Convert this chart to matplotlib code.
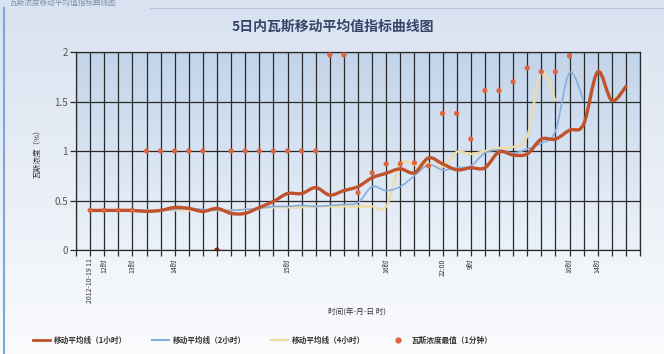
import numpy as np
import matplotlib
matplotlib.use('Agg')
import matplotlib.pyplot as plt
from matplotlib.path import Path
from matplotlib.patches import PathPatch
from matplotlib.lines import Line2D

plt.rcParams['font.family'] = ['Noto Sans CJK SC', 'DejaVu Sans']

# ---------------- data ----------------
ma1_x = list(range(1, 40))
ma1 = [0.40, 0.40, 0.40, 0.40, 0.39, 0.40, 0.43, 0.42, 0.39, 0.42,
       0.37, 0.37, 0.43, 0.49, 0.57, 0.57, 0.63, 0.555, 0.60, 0.64,
       0.73, 0.775, 0.82, 0.78, 0.93, 0.87, 0.81, 0.83, 0.83, 0.99,
       0.96, 0.97, 1.12, 1.12, 1.21, 1.27, 1.80, 1.51, 1.65]

ma2_x = list(range(1, 37))
ma2 = [0.40, 0.40, 0.40, 0.40, 0.40, 0.40, 0.41, 0.42, 0.41, 0.40,
       0.40, 0.41, 0.42, 0.44, 0.44, 0.45, 0.44, 0.45, 0.46, 0.48,
       0.64, 0.60, 0.64, 0.75, 0.86, 0.81, 0.83, 0.85, 0.98, 1.01,
       0.98, 1.02, 1.08, 1.20, 1.79, 1.51]

ma4_x = list(range(1, 35))
ma4 = [0.40, 0.40, 0.40, 0.40, 0.40, 0.40, 0.40, 0.40, 0.40, 0.40,
       0.40, 0.41, 0.42, 0.43, 0.43, 0.43, 0.44, 0.44, 0.44, 0.44,
       0.44, 0.44, 0.87, 0.86, 0.87, 0.84, 0.99, 0.97, 1.00, 1.03,
       1.04, 1.15, 1.79, 1.51]

peak_x = list(range(1, 36))
peak = [0.40, 0.40, 0.40, 0.40, 1.0, 1.0, 1.0, 1.0, 1.0, 0.0,
        1.0, 1.0, 1.0, 1.0, 1.0, 1.0, 1.0, 1.97, 1.97, 0.58,
        0.78, 0.87, 0.87, 0.88, 0.85, 1.38, 1.38, 1.12, 1.61, 1.61,
        1.70, 1.84, 1.80, 1.80, 1.96]

tick_pos = [1, 2, 4, 7, 15, 22, 26, 28, 35, 37]
tick_text = ['2012-10-19 11', '12时', '13时', '14时', '15时', '16时',
             '22:00', '9时', '10时', '14时']

legend_labels = ['移动平均线（1小时）', '移动平均线（2小时）',
                 '移动平均线（4小时）', '瓦斯浓度最值（1分钟）']

title = '5日内瓦斯移动平均值指标曲线图'
window_title = '瓦斯浓度移动平均值指标曲线图'
ylabel = '瓦斯浓度（%）'
xlabel = '时间(年-月-日 时)'

# ---------------- helpers ----------------
def smooth_path(xs, ys):
    p = np.column_stack([xs, ys]).astype(float)
    n = len(p)
    ext = np.vstack([p[0], p, p[-1]])
    verts = [tuple(p[0])]
    codes = [Path.MOVETO]
    for i in range(n - 1):
        p0, p1, p2, p3 = ext[i], ext[i + 1], ext[i + 2], ext[i + 3]
        c1 = p1 + (p2 - p0) / 6.0
        c2 = p2 - (p3 - p1) / 6.0
        verts += [tuple(c1), tuple(c2), tuple(p2)]
        codes += [Path.CURVE4] * 3
    return Path(verts, codes)

W, H = 664, 354
fig = plt.figure(figsize=(W / 100, H / 100), dpi=100)

# figure background gradient
bg = fig.add_axes([0, 0, 1, 1], zorder=-10)
top_c = np.array([216, 226, 240]) / 255
bot_c = np.array([250, 251, 253]) / 255
t = np.linspace(0, 1, 256)[:, None]
grad = top_c[None, :] * (1 - t) + bot_c[None, :] * t
bg.imshow(grad[:, None, :].repeat(2, axis=1), aspect='auto',
          extent=[0, 1, 0, 1], transform=bg.transAxes)
bg.set_xlim(0, 1); bg.set_ylim(0, 1)
bg.axis('off')
# window frame
bg.plot([4 / W, 4 / W], [0, 1 - 8 / H], color='#7ea6d6', lw=1.5,
        transform=bg.transAxes)
bg.plot([150 / W, 1], [1 - 8 / H, 1 - 8 / H], color='#b8c8dc', lw=0.8,
        transform=bg.transAxes)
bg.text(10 / W, 1 - 2.5 / H, window_title, fontsize=5.5, color='#8090a8',
        va='center', ha='left', transform=bg.transAxes)

ax = fig.add_axes([76 / W, 1 - 250 / H, (640 - 76) / W, (250 - 52) / H])

# plot area gradient
pt = np.array([194, 212, 234]) / 255
pb = np.array([236, 242, 250]) / 255
g2 = pt[None, :] * (1 - t) + pb[None, :] * t
ax.imshow(g2[:, None, :].repeat(2, axis=1), aspect='auto',
          extent=[0, 40, 0, 2], zorder=0)

ax.set_xlim(0, 40)
ax.set_ylim(0, 2)

# lines
styles = [
    (ma4_x, ma4, '#f0dca0', 1.6, 3),
    (ma2_x, ma2, '#86aedc', 1.2, 4),
    (ma1_x, ma1, '#c0522c', 2.4, 5),
]
for xs, ys, col, lw, z in styles:
    ax.add_patch(PathPatch(smooth_path(xs, ys), facecolor='none',
                           edgecolor=col, lw=lw, zorder=z,
                           joinstyle='round', capstyle='round'))

dot_colors = ['#8b1e14' if v == 0 else '#dc6440' for v in peak]
ax.scatter(peak_x, peak, s=14, c=dot_colors, zorder=6, linewidths=0)

# grid & ticks
ax.set_xticks(range(0, 41))
labels = [''] * 41
for p, s in zip(tick_pos, tick_text):
    labels[p] = s
ax.set_xticklabels(labels, rotation=90, fontsize=5, color='#333333')
ax.set_yticks([0, 0.5, 1, 1.5, 2])
ax.set_yticklabels(['0', '0.5', '1', '1.5', '2'], fontsize=7, color='#555555')
ax.tick_params(axis='x', length=4, width=0.9, color='#2a2a2a', pad=2)
ax.tick_params(axis='y', length=4, width=0.9, color='#2a2a2a', pad=2)
ax.grid(True, color='#2a2a2a', lw=0.9, zorder=2)
ax.set_axisbelow(False)
for sp in ax.spines.values():
    sp.set_color('#2a2a2a')
    sp.set_linewidth(0.9)
    sp.set_zorder(2)
for gl in ax.get_xgridlines() + ax.get_ygridlines():
    gl.set_zorder(2)

fig.text(333 / W, 1 - 27 / H, title, fontsize=10, fontweight='bold',
         color='#34446a', ha='center', va='center')
fig.text(37 / W, 1 - 152 / H, ylabel, fontsize=5.5, color='#333333',
         rotation=90, ha='center', va='center')
fig.text(357 / W, 1 - 313 / H, xlabel, fontsize=5.5, color='#333333',
         ha='center', va='center')

handles = [
    Line2D([], [], color='#c0522c', lw=2),
    Line2D([], [], color='#86aedc', lw=1.5),
    Line2D([], [], color='#f0dca0', lw=1.5),
    Line2D([], [], color='#dc6440', marker='o', ls='none', markersize=3.5),
]
leg = fig.legend(handles, legend_labels, loc='center left',
                 bbox_to_anchor=(26 / W, 1 - 340 / H), ncol=4, frameon=False,
                 fontsize=5.5, handlelength=2.2, columnspacing=3.2,
                 handletextpad=0.6)
for txt in leg.get_texts():
    txt.set_fontweight('bold')
    txt.set_color('#333333')

fig.savefig('out.png', dpi=100)
